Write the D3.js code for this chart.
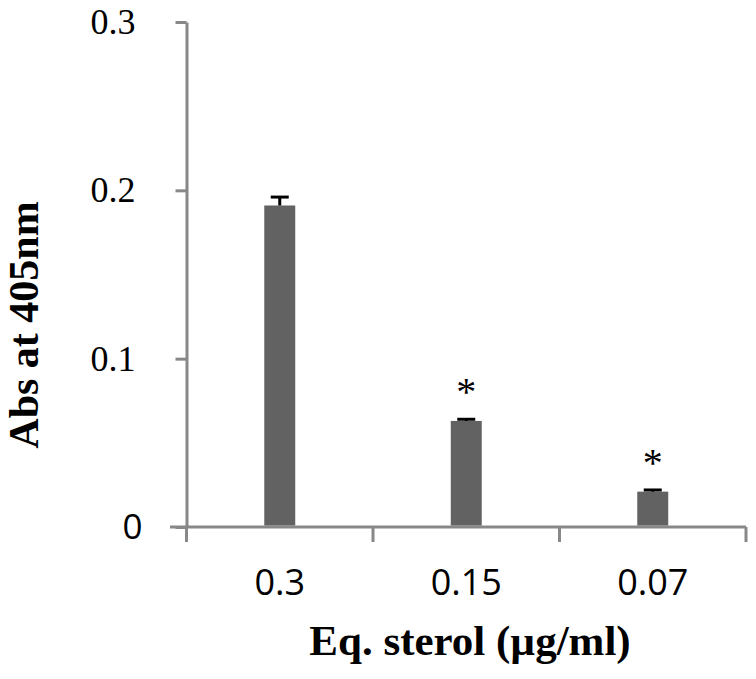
<!DOCTYPE html>
<html><head><meta charset="utf-8">
<script src="https://cdn.jsdelivr.net/npm/d3@7/dist/d3.min.js"></script>
<style>body{margin:0;background:#fff}</style></head>
<body><svg id="c" width="756" height="679"></svg>
<script>
const categories = ["0.3", "0.15", "0.07"];
const values = [0.191, 0.063, 0.021];
const errors = [0.005, 0.001, 0.001];
const significant = [false, true, true];
const yTicks = [0, 0.1, 0.2, 0.3];
const xTitle = "Eq. sterol (\u00b5g/ml)";
const yTitle = "Abs at 405nm";

(function(){
const svg = d3.select("#c");
const axisColor = "#888888";
const serif = "'Liberation Serif','Times New Roman',serif";
const mLeft = 186.5, mRight = 746, mTop = 22, mBottom = 527;

const x = d3.scaleBand().domain(categories).range([mLeft, mRight])
  .paddingInner(0.834).paddingOuter(0.417);
const y = d3.scaleLinear().domain([0, 0.3]).range([mBottom, mTop]);

// y axis
const yAx = svg.append("g").attr("transform", `translate(${mLeft},0)`)
  .attr("font-family", serif).attr("font-size", 36)
  .call(d3.axisLeft(y).tickValues(yTicks).tickSize(11).tickSizeOuter(0).tickPadding(40)
    .tickFormat(d => d === 0 ? "0" : d3.format(".1f")(d)));
yAx.attr("font-family", serif).attr("font-size", 36);
yAx.select(".domain").attr("stroke", axisColor).attr("stroke-width", 3);
yAx.selectAll(".tick line").attr("stroke", axisColor).attr("stroke-width", 3);
yAx.selectAll(".tick text").attr("fill", "#000").attr("font-family", serif)
  .style("font-family", serif).style("font-size", "36px");
yAx.selectAll(".tick").filter(d => d === 0).select("text")
  .attr("font-family", "'Open Sans',sans-serif")
  .style("font-family", "'Open Sans',sans-serif").style("font-size", "35px").attr("x", -44);

// x axis
const step = x.step();
const bounds = d3.range(categories.length + 1).map(i => mLeft + i * step);
svg.append("line").attr("x1", 170).attr("x2", mRight).attr("y1", mBottom).attr("y2", mBottom)
  .attr("stroke", axisColor).attr("stroke-width", 3);
svg.selectAll(".xt").data(bounds).join("line").attr("class", "xt")
  .attr("x1", d => d).attr("x2", d => d).attr("y1", mBottom).attr("y2", mBottom + 15)
  .attr("stroke", axisColor).attr("stroke-width", 3);
svg.selectAll(".xl").data(categories).join("text").attr("class", "xl")
  .attr("x", d => x(d) + x.bandwidth() / 2).attr("y", 595)
  .attr("text-anchor", "middle")
  .style("font-family", "'Open Sans',sans-serif").style("font-size", "36px").text(d => d);

// bars
svg.selectAll(".bar").data(values).join("rect").attr("class", "bar")
  .attr("x", (d, i) => x(categories[i])).attr("width", x.bandwidth())
  .attr("y", d => y(d)).attr("height", d => mBottom - 1.5 - y(d))
  .attr("fill", "#626262");

// error bars
const eb = svg.selectAll(".eb").data(values).join("g").attr("class", "eb");
eb.append("line")
  .attr("x1", (d, i) => x(categories[i]) + x.bandwidth() / 2)
  .attr("x2", (d, i) => x(categories[i]) + x.bandwidth() / 2)
  .attr("y1", d => y(d)).attr("y2", (d, i) => y(d + errors[i]))
  .attr("stroke", "#000").attr("stroke-width", 3);
eb.append("line")
  .attr("x1", (d, i) => x(categories[i]) + x.bandwidth() / 2 - 9)
  .attr("x2", (d, i) => x(categories[i]) + x.bandwidth() / 2 + 9)
  .attr("y1", (d, i) => y(d + errors[i])).attr("y2", (d, i) => y(d + errors[i]))
  .attr("stroke", "#000").attr("stroke-width", 3);

// significance
svg.selectAll(".sig").data(values.map((v, i) => ({v, i})).filter(o => significant[o.i]))
  .join("text").attr("class", "sig")
  .attr("x", o => x(categories[o.i]) + x.bandwidth() / 2)
  .attr("y", o => y(o.v + errors[o.i]) - 14)
  .attr("text-anchor", "middle")
  .style("font-family", serif).style("font-size", "40px")
  .text("*");

// titles
svg.append("text").attr("x", 470).attr("y", 655).attr("text-anchor", "middle")
  .style("font-family", serif).style("font-weight", "bold")
  .style("font-size", "43px").text(xTitle);
svg.append("text").attr("transform", "translate(38,325) rotate(-90)").attr("text-anchor", "middle")
  .style("font-family", serif).style("font-weight", "bold")
  .style("font-size", "42px").text(yTitle);
})();
</script></body></html>
